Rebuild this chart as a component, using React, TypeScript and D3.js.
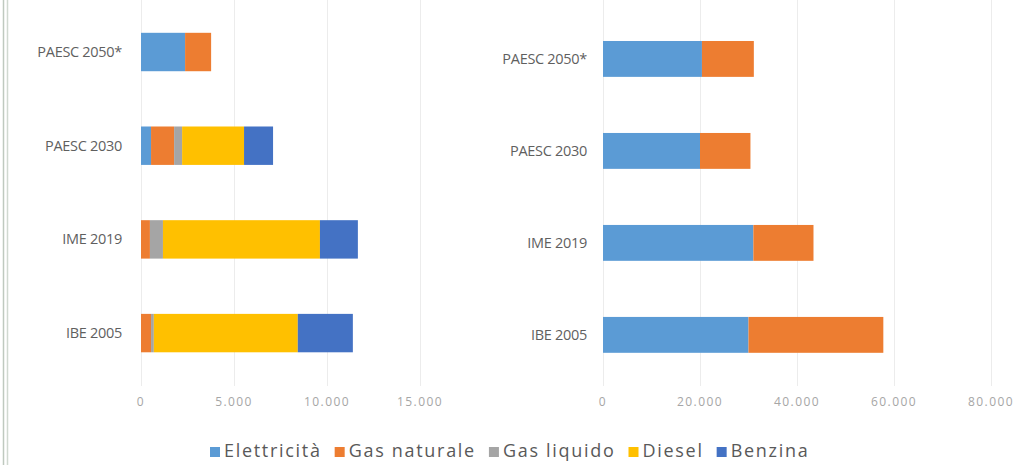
import React, { useEffect, useRef } from "react";
import * as d3 from "d3";

const W = 1026;
const H = 465;

const categories = ["PAESC 2050*", "PAESC 2030", "IME 2019", "IBE 2005"];
const seriesNames = ["Elettricità", "Gas naturale", "Gas liquido", "Diesel", "Benzina"];
const seriesColors = ["#5B9BD5", "#ED7D31", "#A5A5A5", "#FFC000", "#4472C4"];

// Left panel values (per category, in category order)
const elettricitaLeft = [2370, 540, 0, 0];
const gasNaturaleLeft = [1400, 1240, 480, 540];
const gasLiquidoLeft = [0, 430, 700, 150];
const dieselLeft = [0, 3330, 8440, 7740];
const benzinaLeft = [0, 1560, 2040, 2960];

// Right panel values
const elettricitaRight = [20400, 20000, 31000, 30000];
const gasNaturaleRight = [10700, 10400, 12400, 27800];
const gasLiquidoRight = [0, 0, 0, 0];
const dieselRight = [0, 0, 0, 0];
const benzinaRight = [0, 0, 0, 0];

const leftTicks = [0, 5000, 10000, 15000];
const rightTicks = [0, 20000, 40000, 60000, 80000];

const locale = d3.formatLocale({ decimal: ",", thousands: ".", grouping: [3], currency: ["€", ""] });
const fmt = locale.format(",d");

function buildRows(cols: number[][]) {
  return categories.map((c, i) => {
    const row: any = { category: c };
    seriesNames.forEach((s, j) => (row[s] = cols[j][i]));
    return row;
  });
}

const leftRows = buildRows([elettricitaLeft, gasNaturaleLeft, gasLiquidoLeft, dieselLeft, benzinaLeft]);
const rightRows = buildRows([elettricitaRight, gasNaturaleRight, gasLiquidoRight, dieselRight, benzinaRight]);

const FONT = "'Open Sans', 'Liberation Sans', sans-serif";

export default function App() {
  const ref = useRef<SVGSVGElement>(null);

  useEffect(() => {
    const svg = d3.select(ref.current);
    svg.selectAll("*").remove();

    // screenshot frame lines at left edge
    svg.append("line").attr("x1", 3.5).attr("x2", 3.5).attr("y1", 0).attr("y2", H).attr("stroke", "#bfc9bf").attr("stroke-width", 1.5);
    svg.append("line").attr("x1", 7.5).attr("x2", 7.5).attr("y1", 0).attr("y2", H).attr("stroke", "#d0d8d0").attr("stroke-width", 1.5);

    const stack = d3.stack<any>().keys(seriesNames);

    const panels = [
      { rows: leftRows, x0: 141, x1: 420, max: 15000, ticks: leftTicks, y0: 4.7, y1: 380.4, pad: 0.59, labelX: 122 },
      { rows: rightRows, x0: 603, x1: 991, max: 80000, ticks: rightTicks, y0: 13.4, y1: 380.4, pad: 0.61, labelX: 587 },
    ];

    panels.forEach((p) => {
      const x = d3.scaleLinear().domain([0, p.max]).range([p.x0, p.x1]);
      const y = d3.scaleBand<string>().domain(categories).range([p.y0, p.y1]).paddingInner(p.pad).paddingOuter(0.3);
      const g = svg.append("g");

      // gridlines
      g.selectAll(".grid")
        .data(p.ticks)
        .join("line")
        .attr("x1", (d) => x(d) + 0.5)
        .attr("x2", (d) => x(d) + 0.5)
        .attr("y1", 0)
        .attr("y2", 386)
        .attr("stroke", "#ececec")
        .attr("stroke-width", 1);

      // bars
      const stacked = stack(p.rows);
      stacked.forEach((layer, si) => {
        g.append("g")
          .attr("fill", seriesColors[si])
          .selectAll("rect")
          .data(layer)
          .join("rect")
          .attr("x", (d) => x(d[0]))
          .attr("width", (d) => Math.max(0, x(d[1]) - x(d[0])))
          .attr("y", (d) => y(d.data.category)!)
          .attr("height", y.bandwidth());
      });

      // category labels
      g.selectAll(".cat")
        .data(categories)
        .join("text")
        .attr("x", p.labelX)
        .attr("y", (d) => y(d)! + y.bandwidth() / 2)
        .attr("dy", "0.35em")
        .attr("text-anchor", "end")
        .attr("font-family", FONT)
        .attr("font-size", 14.5)
        .attr("letter-spacing", -0.3)
        .attr("fill", "#5f5f5f")
        .text((d) => d);

      // tick labels
      g.selectAll(".tick")
        .data(p.ticks)
        .join("text")
        .attr("x", (d) => x(d))
        .attr("y", 402)
        .attr("dy", "0.35em")
        .attr("text-anchor", "middle")
        .attr("font-family", FONT)
        .attr("font-size", 12)
        .attr("letter-spacing", 1.4)
        .attr("fill", "#a6a6a6")
        .text((d) => fmt(d));
    });

    // legend
    const lg = svg.append("g");
    let cx = 210;
    seriesNames.forEach((s, i) => {
      lg.append("rect").attr("x", cx).attr("y", 447).attr("width", 10).attr("height", 10).attr("fill", seriesColors[i]);
      const t = lg
        .append("text")
        .attr("x", cx + 14)
        .attr("y", 451)
        .attr("dy", "0.35em")
        .attr("font-family", FONT)
        .attr("font-size", 18)
        .attr("letter-spacing", 1.7)
        .attr("fill", "#595959")
        .text(s);
      const w = (t.node() as SVGTextElement).getComputedTextLength();
      cx = cx + 14 + w + 13;
    });
  }, []);

  return (
    <svg
      ref={ref}
      width={W}
      height={H}
      style={{ position: "absolute", left: 0, top: 0, background: "#fff" }}
    />
  );
}
